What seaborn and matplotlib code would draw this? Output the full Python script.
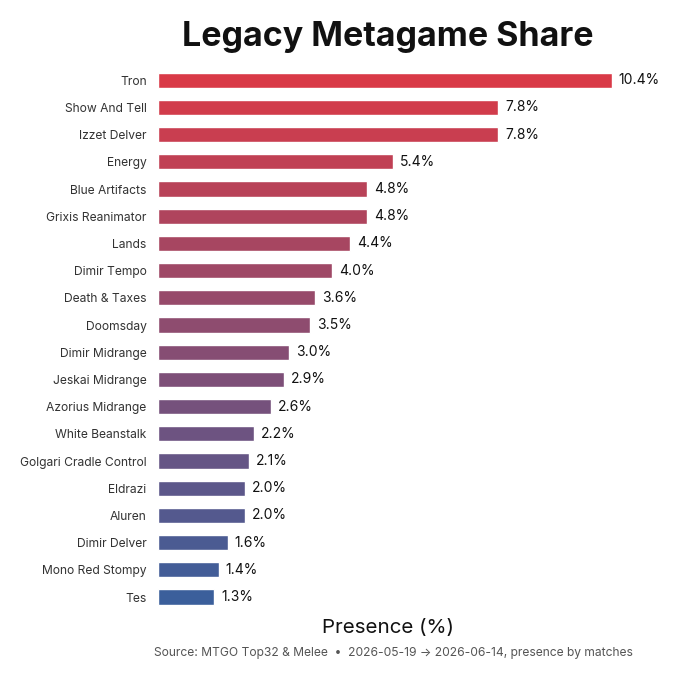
import matplotlib
matplotlib.use("Agg")
import matplotlib.pyplot as plt
import seaborn as sns
import pandas as pd

archetypes = [
    "Tron", "Show And Tell", "Izzet Delver", "Energy", "Blue Artifacts",
    "Grixis Reanimator", "Lands", "Dimir Tempo", "Death & Taxes", "Doomsday",
    "Dimir Midrange", "Jeskai Midrange", "Azorius Midrange", "White Beanstalk",
    "Golgari Cradle Control", "Eldrazi", "Aluren", "Dimir Delver",
    "Mono Red Stompy", "Tes",
]
presence = [
    10.4, 7.8, 7.8, 5.4, 4.8, 4.8, 4.4, 4.0, 3.6, 3.5,
    3.0, 2.9, 2.6, 2.2, 2.1, 2.0, 2.0, 1.6, 1.4, 1.3,
]

df = pd.DataFrame({"archetype": archetypes, "presence": presence})

sns.set_theme(style="white")
plt.rcParams["font.family"] = ["Inter", "DejaVu Sans"]

# red at the top fading to blue at the bottom
colors = sns.blend_palette(["#d93a47", "#3b5f9b"], n_colors=len(df))

fig = plt.figure(figsize=(6.8, 6.8), dpi=100)
ax = fig.add_axes([0.232, 0.102, 0.677, 0.800])

sns.barplot(data=df, x="presence", y="archetype", hue="archetype",
            palette=colors, saturation=1, legend=False, width=0.56, ax=ax)

ax.set_xlim(0, 10.55)
for i, v in enumerate(df["presence"]):
    ax.annotate(f"{v:.1f}%", xy=(v, i), xytext=(5, 0), textcoords="offset points",
                va="center", ha="left", fontsize=10, color="#111111",
                annotation_clip=False)

sns.despine(ax=ax, left=True, bottom=True)
ax.set_xticks([])
ax.set_ylabel("")
ax.set_xlabel("Presence (%)", fontsize=14.8, color="#111111", labelpad=6)
ax.tick_params(axis="y", length=0, pad=8, labelsize=8.7, labelcolor="#333333")
ax.set_title("Legacy Metagame Share", fontsize=24.5, fontweight="bold",
             color="#111111", pad=15)

fig.text(393 / 680, 1 - 653 / 680,
         "Source: MTGO Top32 & Melee  \u2022  2026-05-19 \u2192 2026-06-14, presence by matches",
         ha="center", va="center", fontsize=8.7, color="#555555")

fig.savefig("out.png", dpi=100)
